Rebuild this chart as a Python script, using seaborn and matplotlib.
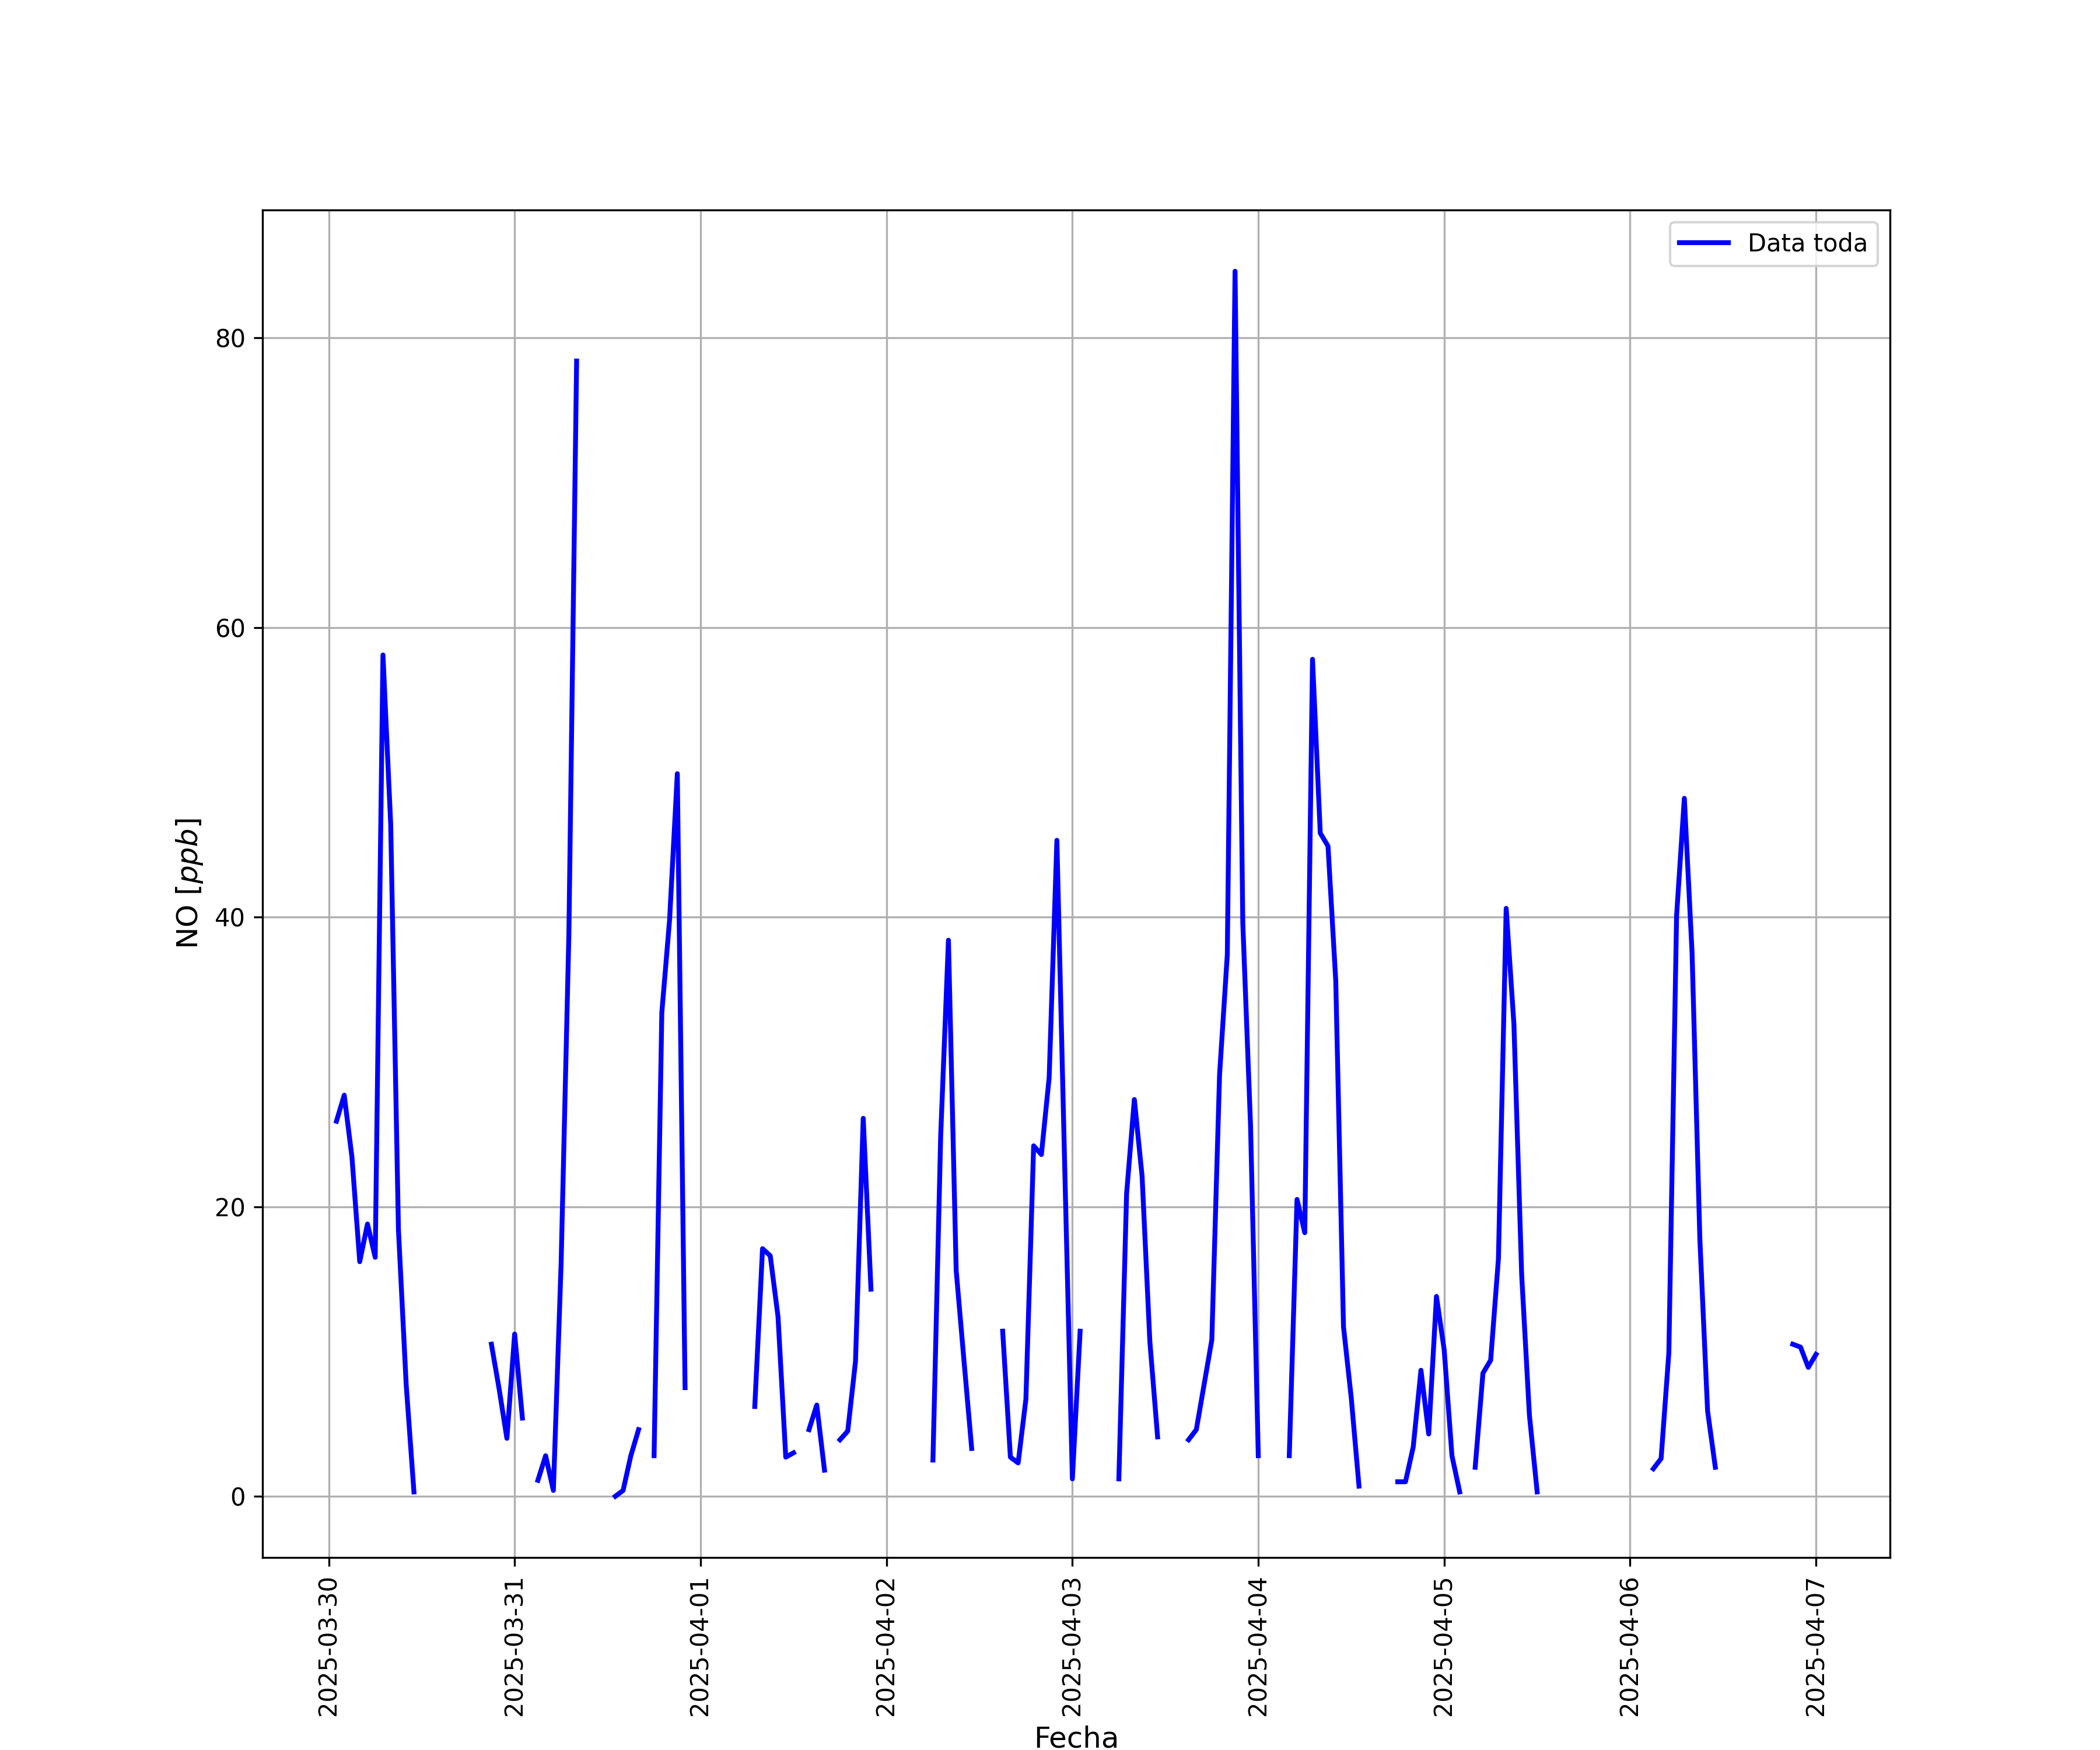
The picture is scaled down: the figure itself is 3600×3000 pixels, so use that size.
import numpy as np
import pandas as pd
import matplotlib
matplotlib.use("Agg")
import matplotlib.pyplot as plt
import seaborn as sns

# Segment start times (hourly data, gaps between segments)
seg_starts = [
    "2025-03-30 01:00", "2025-03-30 21:00", "2025-03-31 03:00", "2025-03-31 13:00",
    "2025-03-31 18:00", "2025-04-01 07:00", "2025-04-01 14:00", "2025-04-01 18:00",
    "2025-04-02 06:00", "2025-04-02 15:00", "2025-04-03 06:00", "2025-04-03 15:00",
    "2025-04-04 04:00", "2025-04-04 18:00", "2025-04-05 04:00", "2025-04-06 03:00",
    "2025-04-06 21:00",
]

seg01 = [25.9, 27.7, 23.4, 16.2, 18.8, 16.5, 58.1, 46.4, 18.4, 7.7, 0.3]
seg02 = [10.5, 7.4, 4.0, 11.2, 5.4]
seg03 = [1.1, 2.8, 0.4, 16.1, 38.8, 78.4]
seg04 = [0.0, 0.4, 2.8, 4.6]
seg05 = [2.8, 33.4, 39.8, 49.9, 7.5]
seg06 = [6.2, 17.1, 16.6, 12.4, 2.7, 3.0]
seg07 = [4.6, 6.3, 1.8]
seg08 = [3.9, 4.5, 9.3, 26.1, 14.3]
seg09 = [2.5, 24.9, 38.4, 15.6, 9.4, 3.3]
seg10 = [11.4, 2.7, 2.3, 6.7, 24.2, 23.6, 28.9, 45.3, 23.0, 1.2, 11.4]
seg11 = [1.2, 20.9, 27.4, 22.1, 10.7, 4.1]
seg12 = [3.9, 4.6, 7.7, 10.8, 29.1, 37.4, 84.6, 39.6, 25.6, 2.8]
seg13 = [2.8, 20.5, 18.2, 57.8, 45.8, 44.9, 35.6, 11.7, 6.8, 0.7]
seg14 = [1.0, 1.0, 3.4, 8.7, 4.3, 13.8, 10.1, 2.8, 0.3]
seg15 = [2.0, 8.5, 9.4, 16.4, 40.6, 32.6, 15.3, 5.6, 0.3]
seg16 = [1.9, 2.6, 9.9, 40.1, 48.2, 37.5, 17.8, 5.9, 2.0]
seg17 = [10.5, 10.3, 8.9, 9.8]

seg_values = [seg01, seg02, seg03, seg04, seg05, seg06, seg07, seg08, seg09,
              seg10, seg11, seg12, seg13, seg14, seg15, seg16, seg17]

frames = []
for i, (st, vals) in enumerate(zip(seg_starts, seg_values)):
    t = pd.date_range(st, periods=len(vals), freq="h")
    frames.append(pd.DataFrame({"Fecha": t, "NO": vals, "seg": i}))
df = pd.concat(frames, ignore_index=True)

fig, ax = plt.subplots(figsize=(12, 10), dpi=300)

first = True
for seg, g in df.groupby("seg"):
    sns.lineplot(data=g, x="Fecha", y="NO", color="blue", linewidth=2,
                 ax=ax, label="Data toda" if first else None, legend=False)
    first = False

ax.grid(True)
ax.set_xlabel("Fecha", fontsize=12)
ax.set_ylabel("NO [$ppb$]", fontsize=12)
for lbl in ax.get_xticklabels():
    lbl.set_rotation(90)
ax.tick_params(axis="x", labelrotation=90)
ax.legend(loc="upper right")

fig.savefig("out.png", dpi=300)
